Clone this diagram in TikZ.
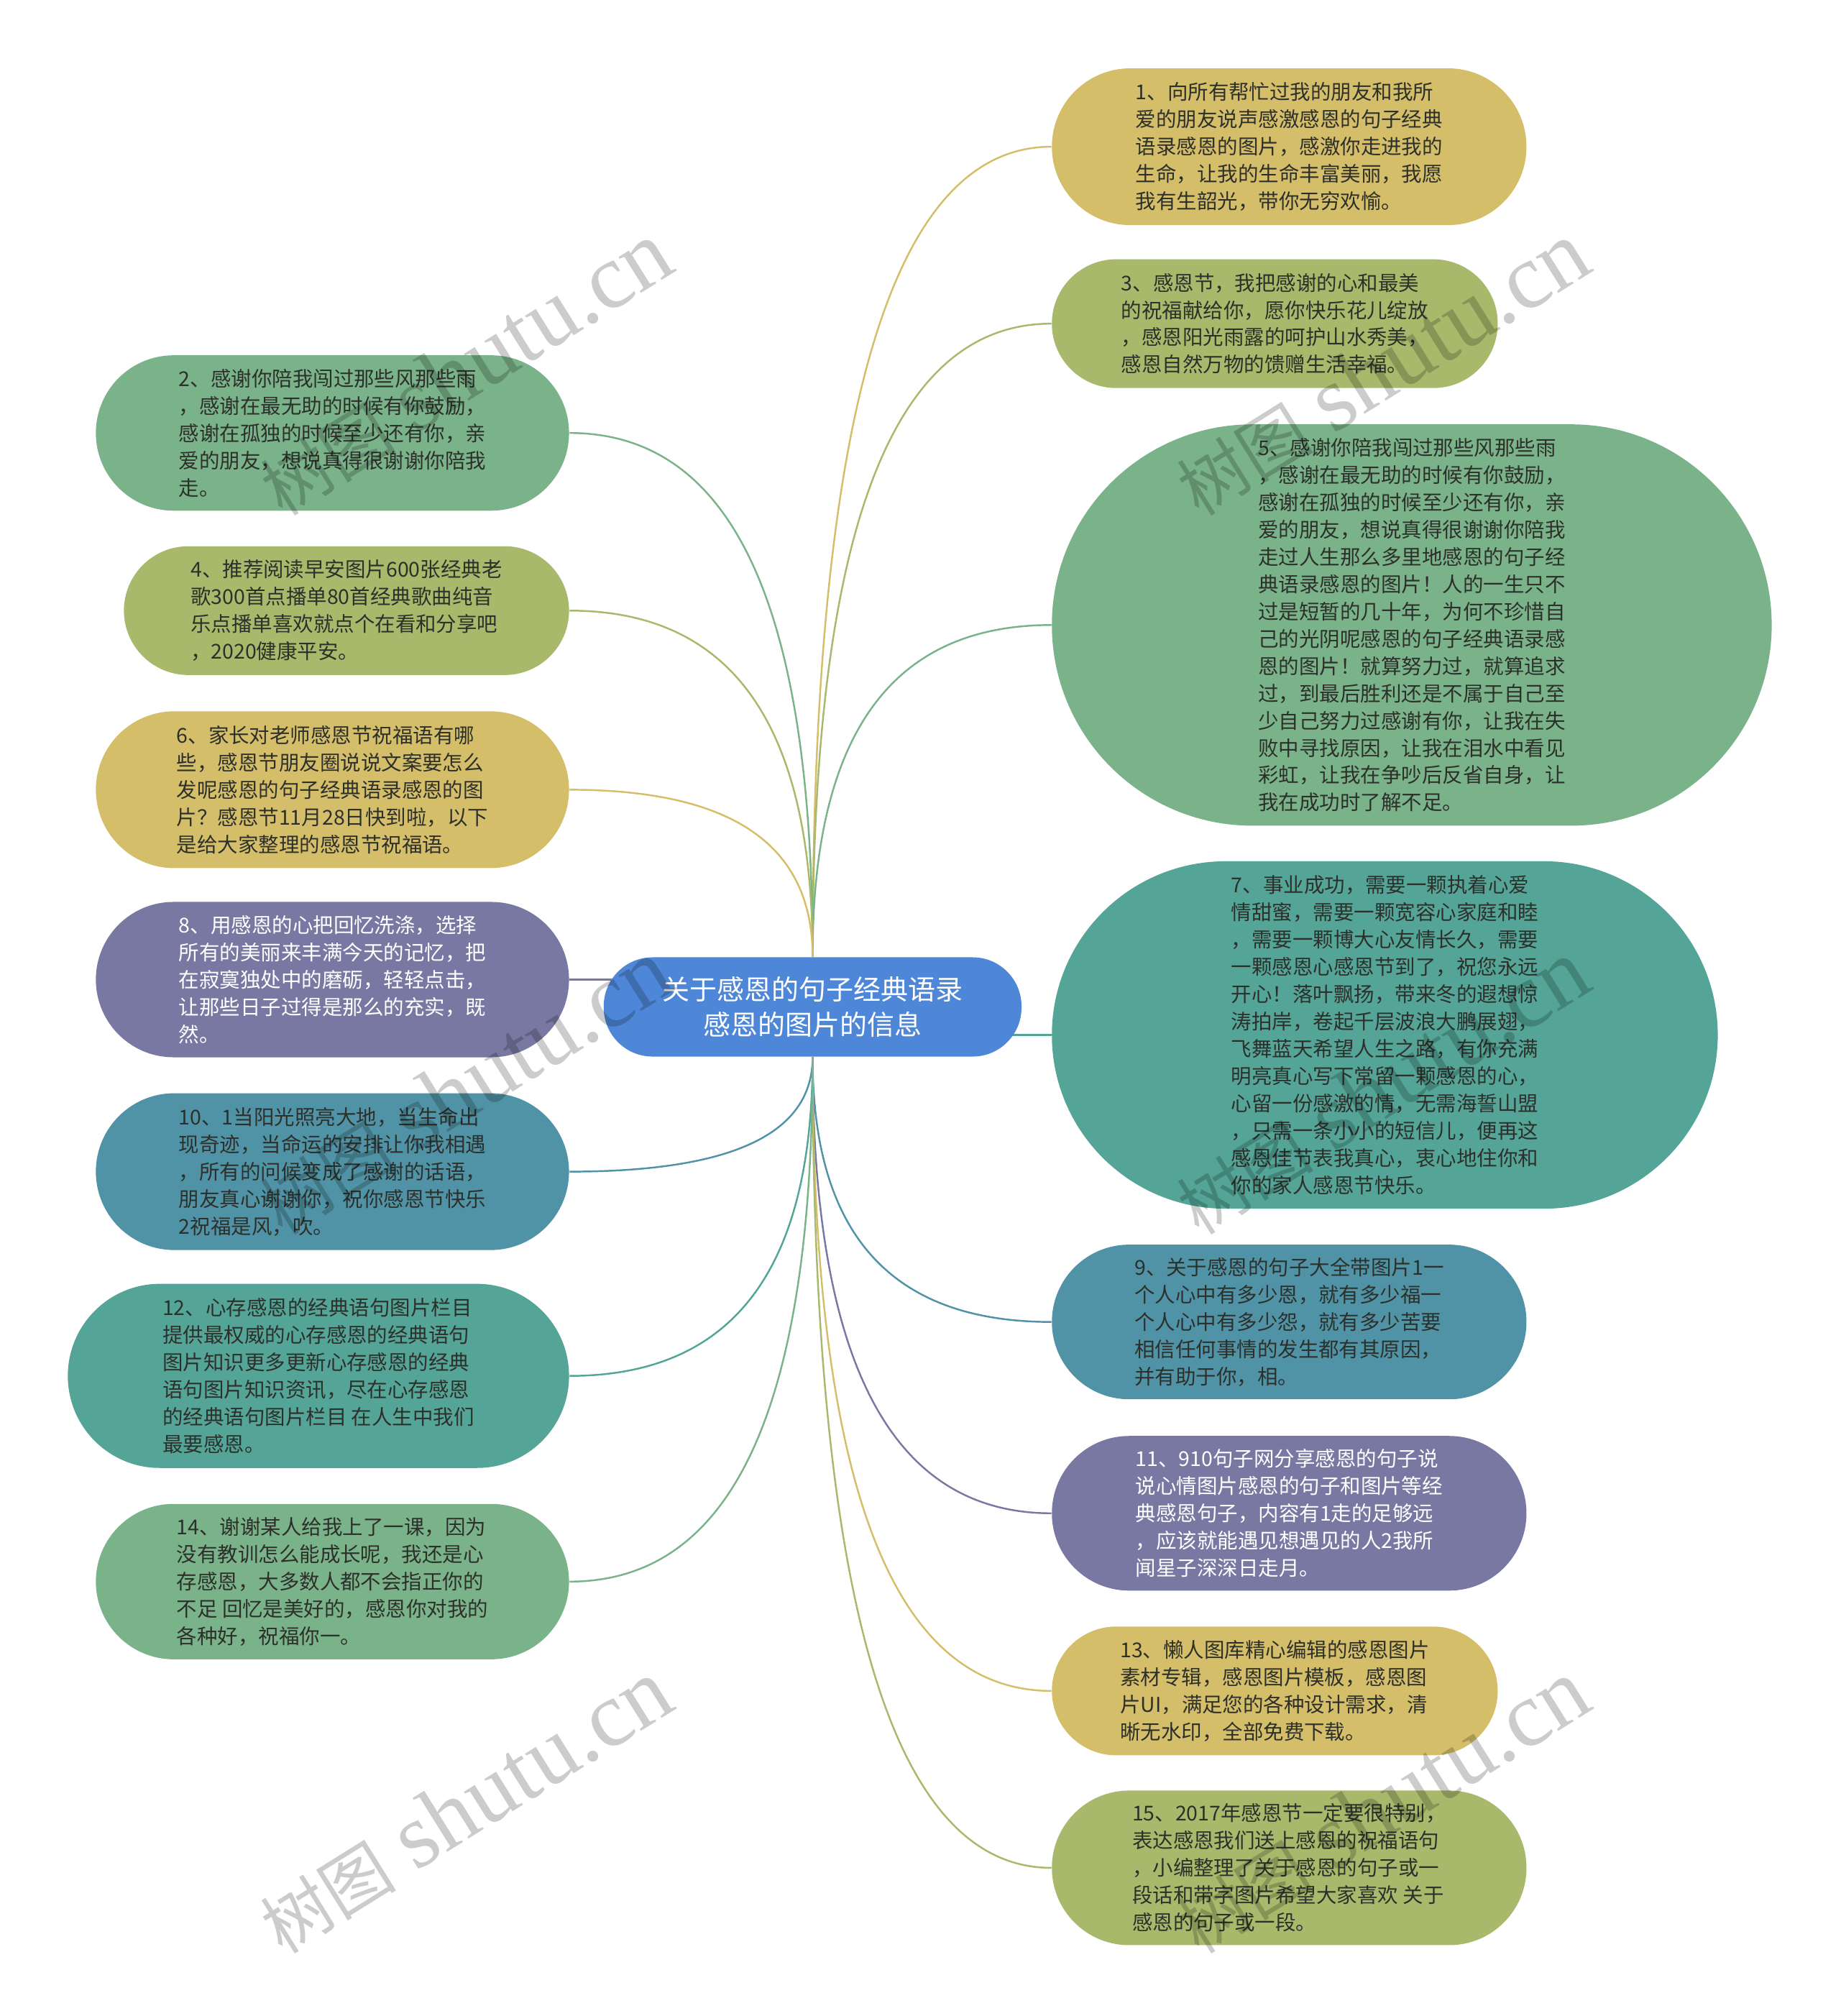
\documentclass[tikz,border=0pt]{standalone}
\usepackage{fontspec}
\setmainfont{Noto Sans CJK SC}
\newfontfamily\wmfont{Liberation Serif}
\usepackage{tikz}
\usetikzlibrary{shapes.misc,calc,backgrounds}
\definecolor{mapyellow}{RGB}{213,190,106}
\definecolor{mapolive}{RGB}{168,185,108}
\definecolor{mapgreen}{RGB}{122,179,138}
\definecolor{mapteal}{RGB}{84,165,151}
\definecolor{mapblue}{RGB}{80,147,166}
\definecolor{mappurple}{RGB}{121,120,162}
\definecolor{maproot}{RGB}{78,135,216}
\definecolor{mapdark}{RGB}{45,48,42}

\begin{document}
\begin{tikzpicture}[
  leaf/.style={rounded rectangle, fill=#1, text=mapdark, align=left, inner sep=0pt,
    font=\fontsize{8.1}{10.8}\selectfont},
  boxsize/.style 2 args={minimum width=#1cm, minimum height=#2cm},
  rootbox/.style={rectangle, rounded corners=0.68cm, fill=maproot, text=white, align=center,
    minimum width=5.81cm, minimum height=1.38cm,
    font=\fontsize{10.8}{13.7}\selectfont},
  link/.style={draw=#1, line width=0.7pt,
    to path={.. controls ($(\tikztostart)!0.67!(\tikztostart |- \tikztotarget)$)
      and ($(\tikztotarget)!0.67!(\tikztostart |- \tikztotarget)$) .. (\tikztotarget)}},
  wmark/.style={rotate=32, text=black, text opacity=0.2,
    font=\fontsize{36.5}{36.5}\selectfont}]

\useasboundingbox (0,0) rectangle (25.6,-28.03);

\node[rootbox] (c) at (11.30,-14.00) {关于感恩的句子经典语录\\感恩的图片的信息};

% right side
\node[leaf=mapyellow, boxsize={6.60}{2.18}, anchor=west] (n1) at (14.62,-2.04) {%
  1、向所有帮忙过我的朋友和我所\\
  爱的朋友说声感激感恩的句子经典\\
  语录感恩的图片，感激你走进我的\\
  生命，让我的生命丰富美丽，我愿\\
  我有生韶光，带你无穷欢愉。};

\node[leaf=mapolive, boxsize={6.20}{1.79}, anchor=west] (n3) at (14.62,-4.50) {%
  3、感恩节，我把感谢的心和最美\\
  的祝福献给你，愿你快乐花儿绽放\\
  ，感恩阳光雨露的呵护山水秀美，\\
  感恩自然万物的馈赠生活幸福。};

\node[leaf=mapgreen, boxsize={10.01}{5.58}, anchor=west] (n5) at (14.62,-8.69) {%
  5、感谢你陪我闯过那些风那些雨\\
  ，感谢在最无助的时候有你鼓励，\\
  感谢在孤独的时候至少还有你，亲\\
  爱的朋友，想说真得很谢谢你陪我\\
  走过人生那么多里地感恩的句子经\\
  典语录感恩的图片！人的一生只不\\
  过是短暂的几十年，为何不珍惜自\\
  己的光阴呢感恩的句子经典语录感\\
  恩的图片！就算努力过，就算追求\\
  过，到最后胜利还是不属于自己至\\
  少自己努力过感谢有你，让我在失\\
  败中寻找原因，让我在泪水中看见\\
  彩虹，让我在争吵后反省自身，让\\
  我在成功时了解不足。};

\node[leaf=mapteal, boxsize={9.26}{4.83}, anchor=west] (n7) at (14.62,-14.39) {%
  7、事业成功，需要一颗执着心爱\\
  情甜蜜，需要一颗宽容心家庭和睦\\
  ，需要一颗博大心友情长久，需要\\
  一颗感恩心感恩节到了，祝您永远\\
  开心！落叶飘扬，带来冬的遐想惊\\
  涛拍岸，卷起千层波浪大鹏展翅，\\
  飞舞蓝天希望人生之路，有你充满\\
  明亮真心写下常留一颗感恩的心，\\
  心留一份感激的情，无需海誓山盟\\
  ，只需一条小小的短信儿，便再这\\
  感恩佳节表我真心，衷心地住你和\\
  你的家人感恩节快乐。};

\node[leaf=mapblue, boxsize={6.60}{2.15}, anchor=west] (n9) at (14.62,-18.38) {%
  9、关于感恩的句子大全带图片1一\\
  个人心中有多少恩，就有多少福一\\
  个人心中有多少怨，就有多少苦要\\
  相信任何事情的发生都有其原因，\\
  并有助于你，相。};

\node[leaf=mappurple, text=white, boxsize={6.60}{2.15}, anchor=west] (n11) at (14.62,-21.04) {%
  11、910句子网分享感恩的句子说\\
  说心情图片感恩的句子和图片等经\\
  典感恩句子，内容有1走的足够远\\
  ，应该就能遇见想遇见的人2我所\\
  闻星子深深日走月。};

\node[leaf=mapyellow, boxsize={6.20}{1.79}, anchor=west] (n13) at (14.62,-23.51) {%
  13、懒人图库精心编辑的感恩图片\\
  素材专辑，感恩图片模板，感恩图\\
  片UI，满足您的各种设计需求，清\\
  晰无水印，全部免费下载。};

\node[leaf=mapolive, boxsize={6.60}{2.15}, anchor=west] (n15) at (14.62,-25.97) {%
  15、2017年感恩节一定要很特别，\\
  表达感恩我们送上感恩的祝福语句\\
  ，小编整理了关于感恩的句子或一\\
  段话和带字图片希望大家喜欢 关于\\
  感恩的句子或一段。};

% left side
\node[leaf=mapgreen, boxsize={6.58}{2.16}, anchor=east] (n2) at (7.92,-6.02) {%
  2、感谢你陪我闯过那些风那些雨\\
  ，感谢在最无助的时候有你鼓励，\\
  感谢在孤独的时候至少还有你，亲\\
  爱的朋友，想说真得很谢谢你陪我\\
  走。};

\node[leaf=mapolive, boxsize={6.19}{1.79}, anchor=east] (n4) at (7.92,-8.49) {%
  4、推荐阅读早安图片600张经典老\\
  歌300首点播单80首经典歌曲纯音\\
  乐点播单喜欢就点个在看和分享吧\\
  ，2020健康平安。};

\node[leaf=mapyellow, boxsize={6.58}{2.18}, anchor=east] (n6) at (7.92,-10.98) {%
  6、家长对老师感恩节祝福语有哪\\
  些，感恩节朋友圈说说文案要怎么\\
  发呢感恩的句子经典语录感恩的图\\
  片？感恩节11月28日快到啦，以下\\
  是给大家整理的感恩节祝福语。};

\node[leaf=mappurple, text=white, boxsize={6.58}{2.16}, anchor=east] (n8) at (7.92,-13.62) {%
  8、用感恩的心把回忆洗涤，选择\\
  所有的美丽来丰满今天的记忆，把\\
  在寂寞独处中的磨砺，轻轻点击，\\
  让那些日子过得是那么的充实，既\\
  然。};

\node[leaf=mapblue, boxsize={6.58}{2.18}, anchor=east] (n10) at (7.92,-16.29) {%
  10、1当阳光照亮大地，当生命出\\
  现奇迹，当命运的安排让你我相遇\\
  ，所有的问候变成了感谢的话语，\\
  朋友真心谢谢你，祝你感恩节快乐\\
  2祝福是风，吹。};

\node[leaf=mapteal, boxsize={6.97}{2.56}, anchor=east] (n12) at (7.92,-19.13) {%
  12、心存感恩的经典语句图片栏目\\
  提供最权威的心存感恩的经典语句\\
  图片知识更多更新心存感恩的经典\\
  语句图片知识资讯，尽在心存感恩\\
  的经典语句图片栏目 在人生中我们\\
  最要感恩。};

\node[leaf=mapgreen, boxsize={6.58}{2.16}, anchor=east] (n14) at (7.92,-21.99) {%
  14、谢谢某人给我上了一课，因为\\
  没有教训怎么能成长呢，我还是心\\
  存感恩，大多数人都不会指正你的\\
  不足 回忆是美好的，感恩你对我的\\
  各种好，祝福你一。};

\begin{pgfonlayer}{background}
\draw[link=mapyellow] (c.north) to (n1.west);
\draw[link=mapolive] (c.north) to (n3.west);
\draw[link=mapgreen] (c.north) to (n5.west);
\draw[mapteal, line width=0.7pt] (c.center |- n7.west) -- (n7.west);
\draw[link=mapblue] (c.south) to (n9.west);
\draw[link=mappurple] (c.south) to (n11.west);
\draw[link=mapyellow] (c.south) to (n13.west);
\draw[link=mapolive] (c.south) to (n15.west);
\draw[link=mapgreen] (c.north) to (n2.east);
\draw[link=mapolive] (c.north) to (n4.east);
\draw[link=mapyellow] (c.north) to (n6.east);
\draw[mappurple, line width=0.7pt] (n8.east) -- (n8.east -| c.center);
\draw[link=mapblue] (c.south) to (n10.east);
\draw[link=mapteal] (c.south) to (n12.east);
\draw[link=mapgreen] (c.south) to (n14.east);
\end{pgfonlayer}

% watermarks
\node[wmark] (wm1) at (6.47,-5.13) {{\fontsize{27}{27}\selectfont 树图} {\wmfont shutu.cn}};
\node[wmark] (wm2) at (19.22,-5.13) {{\fontsize{27}{27}\selectfont 树图} {\wmfont shutu.cn}};
\node[wmark] (wm3) at (6.47,-15.12) {{\fontsize{27}{27}\selectfont 树图} {\wmfont shutu.cn}};
\node[wmark] (wm4) at (19.22,-15.12) {{\fontsize{27}{27}\selectfont 树图} {\wmfont shutu.cn}};
\node[wmark] (wm5) at (6.47,-25.12) {{\fontsize{27}{27}\selectfont 树图} {\wmfont shutu.cn}};
\node[wmark] (wm6) at (19.22,-25.12) {{\fontsize{27}{27}\selectfont 树图} {\wmfont shutu.cn}};

\end{tikzpicture}
\end{document}
